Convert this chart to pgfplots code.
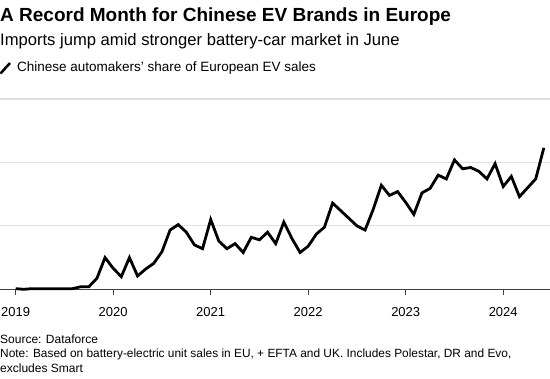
\documentclass[border=0pt]{standalone}
\usepackage{pgfplots}
\pgfplotsset{compat=1.18}
\usepackage{fontspec}
\setmainfont{Liberation Sans}
\begin{document}
\begin{tikzpicture}[x=1bp,y=1bp]
\path[use as bounding box] (0,0) rectangle (550,378);
\begin{axis}[
  at={(0bp,88.7bp)}, anchor=south west,
  scale only axis, width=550bp, height=190.3bp,
  xmin=-1.93, xmax=65.76, ymin=0, ymax=15,
  clip=false,
  axis x line*=bottom, axis y line*=left,
  y axis line style={draw=none},
  x axis line style={draw=black!75, line width=0.9bp},
  ytick={5,10,15}, yticklabels={}, ytick style={draw=none},
  ymajorgrids, grid style={draw=black!12, line width=1.1bp},
  xtick={0,12,24,36,48,60},
  xticklabels={2019,2020,2021,2022,2023,2024},
  tick align=outside, major tick length=6bp,
  x tick style={draw=black!75, line width=0.9bp},
  xticklabel style={font=\fontsize{13bp}{15bp}\selectfont, yshift=-9bp},
  /pgf/number format/assume math mode=true,
]
\addplot[black, line width=2.8bp, line join=miter] coordinates {
(0,0.05)(1,0.0)(2,0.05)(3,0.05)(4,0.05)(5,0.05)(6,0.05)(7,0.05)(8,0.2)(9,0.2)
(10,0.87)(11,2.5)(12,1.65)(13,1.0)(14,2.5)(15,1.05)(16,1.6)(17,2.05)(18,2.96)(19,4.67)
(20,5.1)(21,4.5)(22,3.5)(23,3.2)(24,5.5)(25,3.8)(26,3.2)(27,3.6)(28,2.9)(29,4.1)
(30,3.9)(31,4.5)(32,3.6)(33,5.3)(34,4.0)(35,2.9)(36,3.4)(37,4.35)(38,4.9)(39,6.8)
(40,6.2)(41,5.6)(42,5.0)(43,4.67)(44,6.3)(45,8.2)(46,7.4)(47,7.7)(48,6.85)(49,5.9)
(50,7.6)(51,7.95)(52,9.0)(53,8.7)(54,10.2)(55,9.5)(56,9.6)(57,9.3)(58,8.7)(59,9.9)
(60,8.1)(61,8.9)(62,7.3)(63,8.0)(64,8.7)(65,11.15)
};
\end{axis}
\node[anchor=west, inner sep=0pt, font=\fontsize{19bp}{22bp}\selectfont\bfseries] at (0,378-16.7) {A Record Month for Chinese EV Brands in Europe};
\node[anchor=west, inner sep=0pt, font=\fontsize{16.6bp}{20bp}\selectfont] at (0,378-41.7) {Imports jump amid stronger battery-car market in June};
\draw[black, line width=2.5bp] (0.5,378-73.5) -- (10,378-63);
\node[anchor=west, inner sep=0pt, font=\fontsize{13.5bp}{15bp}\selectfont] at (17,378-68.3) {Chinese automakers' share of European EV sales};
\node[anchor=west, inner sep=0pt, font=\fontsize{12bp}{14bp}\selectfont] at (0,378-339) {Source: Dataforce};
\node[anchor=west, inner sep=0pt, font=\fontsize{11.9bp}{14bp}\selectfont] at (0,378-354) {Note: Based on battery-electric unit sales in EU, + EFTA and UK. Includes Polestar, DR and Evo,};
\node[anchor=west, inner sep=0pt, font=\fontsize{12bp}{14bp}\selectfont] at (0,378-368) {excludes Smart};
\end{tikzpicture}
\end{document}
